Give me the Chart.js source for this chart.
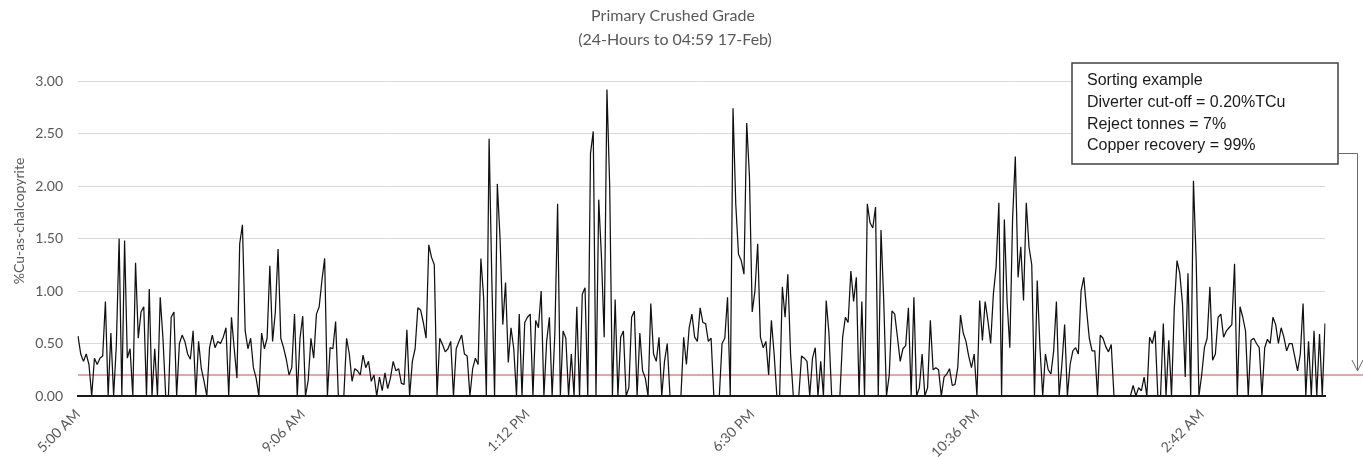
<!DOCTYPE html>
<html>
<head>
<meta charset="utf-8">
<script src="https://cdn.jsdelivr.net/npm/chart.js@4.4.1/dist/chart.umd.min.js"></script>
<style>
  html, body { margin: 0; padding: 0; background: #fff; }
  #wrap { width: 1363px; height: 457px; position: relative; }
</style>
</head>
<body>
<div id="wrap"><canvas id="gradeChart"></canvas></div>
<script>
const grade = [
  0.57,0.40,0.33,0.40,0.30,0,0.36,0.30,0.36,0.38,
  0.90,0,0.60,0,0.49,1.50,0,1.48,0.36,0.45,
  0,1.27,0.55,0.80,0.85,0,1.02,0,0.45,0,
  0.94,0.55,0,0,0.75,0.80,0,0.50,0.58,0.52,
  0.40,0.35,0.62,0,0.52,0.26,0.14,0,0.46,0.58,
  0.46,0.52,0.50,0.56,0.65,0,0.75,0.45,0.17,1.45,
  1.63,0.62,0.45,0.55,0.27,0.17,0,0.60,0.45,0.55,
  1.24,0.52,0.80,1.40,
  0.55,0.46,0.35,0.20,0.27,0.78,0,0.55,0.76,0,
  0.15,0.55,0.36,0.78,0.85,1.10,1.31,0,0.46,0.45,
  0.71,0,0,0,0.55,0.40,0.14,0.26,0.24,0.20,
  0.39,0.27,0.33,0.14,0.20,0,0.18,0.05,0.22,0.07,
  0.17,0.33,0.24,0.26,0.12,0.11,0.63,0,0.33,0.45,
  0.84,0.82,0.70,0.55,1.44,1.32,1.25,0,0.55,0.49,
  0.42,0.45,0.52,0,0.45,0.52,0.58,0.40,0.38,0,
  0.26,0.36,0.30,1.31,0.94,0,
  2.45,1.10,0,2.02,1.50,0.68,1.08,0.32,0.65,0.45,
  0,0.78,0,0.70,0.75,0.78,0,0.72,0.65,1.00,
  0,0.52,0.75,0,0.60,1.83,0,0.62,0.55,0,
  0.40,0,0.85,0,0.97,1.03,0,2.31,2.52,0,
  1.87,1.32,0.56,2.92,2.00,0,0.92,0,0.56,0.62,
  0,0.08,0.75,0.81,0,0.60,0.24,0.17,0,0.88,
  0.40,0.33,0.56,0,0.33,0.50,0,0,0,0,
  0,0.56,0.30,0.65,0.78,0.56,0.52,0.84,
  0.70,0.69,0.52,0.55,0,0,0,0.50,0.55,0.94,
  0,2.74,1.83,1.35,1.29,1.16,2.60,2.09,0.80,1.00,
  1.45,0.56,0.46,0.52,0.20,0.72,0.40,0,0,1.04,
  0.75,1.16,0.40,0,0,0,0.38,0.36,0.33,0,
  0.36,0.46,0,0.33,0,0.91,0.60,0,0,0,
  0,0.56,0.75,0.70,1.19,0.90,1.13,0,0.90,0,
  1.83,1.65,1.60,1.80,0,1.58,0.90,0,0.20,0.81,
  0.78,0.56,0.33,0.45,0.48,0.84,0,0.94,
  0,0.08,0.40,0,0.08,0.72,0.25,0.27,0.25,0,
  0.18,0.21,0.26,0.10,0.11,0.27,0.77,0.60,0.52,0.38,
  0.27,0.40,0,0.91,0.53,0.90,0.72,0.50,0.97,1.23,
  1.84,0,1.68,0.90,0.46,1.68,2.28,1.13,1.42,0.91,
  1.84,1.42,1.25,0,1.10,0.46,0,0.40,0.25,0.21,
  0.43,0.90,0,0.30,0.68,0,0.30,0.43,0.46,0.40,
  1.00,1.13,0.82,0.55,0.43,0.43,0,0.58,0.55,0.47,
  0.42,0.49,0,
  0,0,0,0,0,0,0.10,0,0.08,0.05,
  0.18,0,0.56,0.50,0.62,0,0,0.69,0,0.53,
  0,0.83,1.29,1.17,0.88,0.18,1.17,0,2.05,1.29,
  0,0.20,0.46,0.55,1.04,0.34,0.40,0.75,0.78,0.56,
  0.62,0.65,0.68,1.26,0,0.85,0.75,0.62,0,0.53,
  0.55,0.50,0.46,0,0.46,0.54,0.50,0.75,0.68,0.50,
  0.65,0.56,0.43,0.50,0.50,0.37,0.24,0.40,0.88,0,
  0.52,0,0.62,0,0.59,0,0.69
];
const samples = grade.map((_, i) => String(i));
const tickLabels = ['5:00 AM', '9:06 AM', '1:12 PM', '6:30 PM', '10:36 PM', '2:42 AM'];
const labelEvery = 82; // 246 minutes / 3 minutes per sample
const cutoff = 0.20;
const titleLines = ['Primary Crushed Grade', '(24-Hours to 04:59 17-Feb)'];
const yTitle = '%Cu-as-chalcopyrite';
const noteLines = ['Sorting example', 'Diverter cut-off = 0.20%TCu', 'Reject tonnes = 7%', 'Copper recovery = 99%'];

const grey = '#595959';

// titles, the note box and its arrow
const decor = {
  id: 'decor',
  afterDraw(chart) {
    const c = chart.ctx;
    const area = chart.chartArea;
    const yCut = chart.scales.y.getPixelForValue(cutoff);
    c.save();

    // red cut-off carries on past the plot to the arrow
    c.strokeStyle = '#c0504d';
    c.lineWidth = 1;
    c.beginPath();
    c.moveTo(area.right, yCut);
    c.lineTo(chart.width, yCut);
    c.stroke();

    c.fillStyle = grey;
    c.textAlign = 'center';
    c.textBaseline = 'middle';
    c.font = '16px Lato';
    c.fillText(titleLines[0], 673, 16);
    c.fillText(titleLines[1], 675, 40);

    c.save();
    c.translate(19, 221);
    c.rotate(-Math.PI / 2);
    c.font = '14px Lato';
    c.fillText(yTitle, 0, 0);
    c.restore();

    // note box
    c.fillStyle = '#fff';
    c.fillRect(1072, 63, 266, 101);
    c.strokeStyle = '#404040';
    c.lineWidth = 1.5;
    c.strokeRect(1072, 63, 266, 101);
    c.fillStyle = '#1a1a1a';
    c.textAlign = 'left';
    c.textBaseline = 'alphabetic';
    c.font = '16px "Liberation Sans", Arial, sans-serif';
    noteLines.forEach((t, i) => c.fillText(t, 1087, 85 + i * 21.8));

    // connector
    c.strokeStyle = '#6a6a6a';
    c.lineWidth = 1;
    c.beginPath();
    c.moveTo(1338, 153.5);
    c.lineTo(1357.5, 153.5);
    c.lineTo(1357.5, yCut - 4);
    c.stroke();
    c.beginPath();
    c.moveTo(1352, yCut - 15);
    c.lineTo(1357.5, yCut - 4);
    c.lineTo(1363, yCut - 15);
    c.stroke();
    c.restore();
  }
};

new Chart(document.getElementById('gradeChart'), {
  type: 'line',
  data: {
    labels: samples,
    datasets: [
      {
        label: 'Grade',
        data: grade,
        borderColor: '#111',
        borderWidth: 1.25,
        pointRadius: 0,
        tension: 0,
        borderJoinStyle: 'bevel'
      },
      {
        label: 'Cut-off',
        data: [{ x: samples[0], y: cutoff }, { x: samples[samples.length - 1], y: cutoff }],
        borderColor: '#c0504d',
        borderWidth: 1,
        pointRadius: 0
      }
    ]
  },
  options: {
    responsive: true,
    maintainAspectRatio: false,
    animation: false,
    layout: { padding: { top: 81, right: 38, left: 0, bottom: 0 } },
    plugins: {
      legend: { display: false },
      title: { display: false },
      tooltip: { enabled: false }
    },
    scales: {
      x: {
        type: 'category',
        offset: false,
        grid: { display: false, drawTicks: false },
        border: { display: true, color: '#1a1a1a', width: 2 },
        ticks: {
          autoSkip: false,
          minRotation: 45,
          maxRotation: 45,
          padding: 10,
          color: grey,
          font: { family: 'Lato', size: 14 },
          callback: (v, i) => (i % labelEvery === 0 ? tickLabels[i / labelEvery] : null)
        },
        afterFit: (s) => { s.height = 61; }
      },
      y: {
        min: 0,
        max: 3,
        grid: { color: '#d9d9d9', drawTicks: false },
        border: { display: false },
        ticks: {
          stepSize: 0.5,
          padding: 15,
          color: grey,
          font: { family: 'Lato', size: 14 },
          callback: (v) => v.toFixed(2)
        },
        afterFit: (s) => { s.width = 78; }
      }
    }
  },
  plugins: [decor]
});
</script>
</body>
</html>
